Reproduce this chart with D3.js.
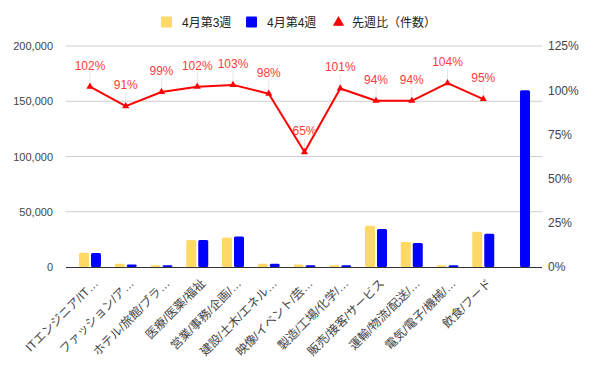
<!DOCTYPE html>
<html>
<head>
<meta charset="utf-8">
<script src="https://cdn.jsdelivr.net/npm/d3@7"></script>
<style>
	body { margin: 0; background: #fff; }
	text { font-family: Arial, "Liberation Sans", "Noto Sans CJK JP", sans-serif; }
</style>
</head>
<body>
<svg id="svg"></svg>
<script>
// catégories (axe x), la dernière n'a pas de nom
var categories = ["ITエンジニア/IT…", "ファッション/ア…", "ホテル/旅館/ブラ…", "医療/医薬/福祉", "営業/事務/企画/…", "建設/土木/エネル…", "映像/イベント/芸…", "製造/工場/化学/…", "販売/接客/サービス", "運輸/物流/配送/…", "電気/電子/機械/…", "飲食/フード", ""];

// séries barres
var semaine3 = [12800, 3000, 1600, 24500, 26600, 3000, 2200, 1500, 37300, 22700, 1500, 31800, null];
var semaine4 = [12600, 2200, 1600, 24500, 27500, 3000, 1500, 1500, 34500, 21800, 1500, 30000, 160000];

// série ligne : ratio semaine précédente
var ratio = [1.02, 0.91, 0.99, 1.02, 1.03, 0.98, 0.65, 1.01, 0.94, 0.94, 1.04, 0.95];

// graduations
var ticksGauche = [0, 50000, 100000, 150000, 200000];
var ticksDroite = [0, 0.25, 0.5, 0.75, 1, 1.25];

var legende = [["4月第3週", "#ffd966", "rect"], ["4月第4週", "#0000ff", "rect"], ["先週比（件数）", "#ff0000", "tri"]];

Graphique =
{
	largeur: 597,
	hauteur: 367,

	init()
	{
		var that = this;

		canevas = d3.select("#svg")
			.attr("width", that.largeur)
			.attr("height", that.hauteur)

		that.x = d3.scaleBand().domain(d3.range(categories.length)).range([72.1, 536.9]).padding(0)
		that.yG = d3.scaleLinear().domain([0, 200000]).range([267, 46])
		that.yD = d3.scaleLinear().domain([0, 1.25]).range([267, 46])

		that.draw_grille()
		that.draw_barres()
		that.draw_ligne()
		that.draw_axes()
		that.draw_legende()
	},

	draw_grille()
	{
		var that = this;

		canevas.append("g")
			.selectAll("line")
			.data(ticksGauche.slice(1))
			.enter()
			.append("line")
			.attr("x1", 66)
			.attr("x2", 542)
			.attr("y1", d => that.yG(d))
			.attr("y2", d => that.yG(d))
			.attr("style", "stroke:#cccccc;stroke-width:1")
	},

	draw_barres()
	{
		var that = this;
		var l = 10

		//4月第3週
		canevas.append("g")
			.selectAll("rect")
			.data(semaine3.map((v, i) => [v, i]).filter(d => d[0] != null))
			.enter()
			.append("rect")
			.attr("x", d => that.x(d[1]) + that.x.bandwidth() / 2 - l - 1)
			.attr("y", d => that.yG(d[0]))
			.attr("width", l)
			.attr("height", d => that.yG(0) - that.yG(d[0]))
			.attr("rx", 1.5)
			.attr("fill", "#ffd966")

		//4月第4週
		canevas.append("g")
			.selectAll("rect")
			.data(semaine4.map((v, i) => [v, i]))
			.enter()
			.append("rect")
			.attr("x", d => that.x(d[1]) + that.x.bandwidth() / 2 + 1)
			.attr("y", d => that.yG(d[0]))
			.attr("width", l)
			.attr("height", d => that.yG(0) - that.yG(d[0]))
			.attr("rx", 1.5)
			.attr("fill", "#0000ff")
	},

	draw_ligne()
	{
		var that = this;
		var cx = i => that.x(i) + that.x.bandwidth() / 2

		// tiges des étiquettes
		canevas.append("g")
			.selectAll("line")
			.data(ratio)
			.enter()
			.append("line")
			.attr("x1", (d, i) => cx(i))
			.attr("x2", (d, i) => cx(i))
			.attr("y1", d => that.yD(d))
			.attr("y2", d => that.yD(d) - 14)
			.attr("style", "stroke:#e6e6e6;stroke-width:1")

		var ligne = d3.line()
			.x((d, i) => cx(i))
			.y(d => that.yD(d))

		canevas.append("path")
			.datum(ratio)
			.attr("d", ligne)
			.attr("fill", "none")
			.attr("stroke", "#ff0000")
			.attr("stroke-width", 2)
			.attr("stroke-linejoin", "round")

		canevas.append("g")
			.selectAll("path")
			.data(ratio)
			.enter()
			.append("path")
			.attr("d", d3.symbol(d3.symbolTriangle, 22))
			.attr("transform", (d, i) => "translate(" + cx(i) + "," + that.yD(d) + ")")
			.attr("fill", "#ff0000")

		canevas.append("g")
			.selectAll("text")
			.data(ratio)
			.enter()
			.append("text")
			.text(d => Math.round(d * 100) + "%")
			.attr("x", (d, i) => cx(i))
			.attr("y", d => that.yD(d) - 17)
			.attr("text-anchor", "middle")
			.attr("fill", "#ff3b3b")
			.style("font-size", "12px")
	},

	draw_axes()
	{
		var that = this;

		// ligne de base
		canevas.append("line")
			.attr("x1", 66).attr("x2", 542)
			.attr("y1", 267.5).attr("y2", 267.5)
			.attr("style", "stroke:#333333;stroke-width:1")

		var axeG = d3.axisLeft(that.yG).tickValues(ticksGauche).tickFormat(d3.format(",")).tickSize(0).tickPadding(0)
		canevas.append("g")
			.attr("transform", "translate(53,0)")
			.call(axeG)
			.call(g => g.select(".domain").remove())
			.selectAll("text")
			.attr("fill", "#444444")
			.style("font-size", "11px")

		var axeD = d3.axisRight(that.yD).tickValues(ticksDroite).tickFormat(d3.format(".0%")).tickSize(0).tickPadding(0)
		canevas.append("g")
			.attr("transform", "translate(548,0)")
			.call(axeD)
			.call(g => g.select(".domain").remove())
			.selectAll("text")
			.attr("fill", "#444444")
			.style("font-size", "12px")

		// étiquettes des catégories, tournées à -45°
		var axeX = d3.axisBottom(that.x).tickFormat(i => categories[i]).tickSize(0).tickPadding(0)
		canevas.append("g")
			.attr("transform", "translate(0,267)")
			.call(axeX)
			.call(g => g.select(".domain").remove())
			.selectAll("text")
			.attr("fill", "#444444")
			.style("font-size", "12px")
			.attr("text-anchor", "end")
			.attr("dy", "0")
			.attr("y", 0)
			.attr("transform", "translate(9,17) rotate(-45)")
	},

	draw_legende()
	{
		var pos = [161, 246, 333]

		var g = canevas.append("g")
			.selectAll("g")
			.data(legende)
			.enter()
			.append("g")
			.attr("transform", (d, i) => "translate(" + pos[i] + ",22)")

		g.filter(d => d[2] == "rect")
			.append("rect")
			.attr("x", 0).attr("y", -5.5)
			.attr("width", 11).attr("height", 11)
			.attr("rx", 1)
			.attr("fill", d => d[1])

		g.filter(d => d[2] == "tri")
			.append("path")
			.attr("d", d3.symbol(d3.symbolTriangle, 55))
			.attr("transform", "translate(5.5,0.5)")
			.attr("fill", d => d[1])

		g.append("text")
			.text(d => d[0])
			.attr("x", (d, i) => i == 2 ? 19 : 21)
			.attr("y", 4.5)
			.attr("fill", "#222222")
			.style("font-size", "12px")
	}
}

Graphique.init();
</script>
</body>
</html>
